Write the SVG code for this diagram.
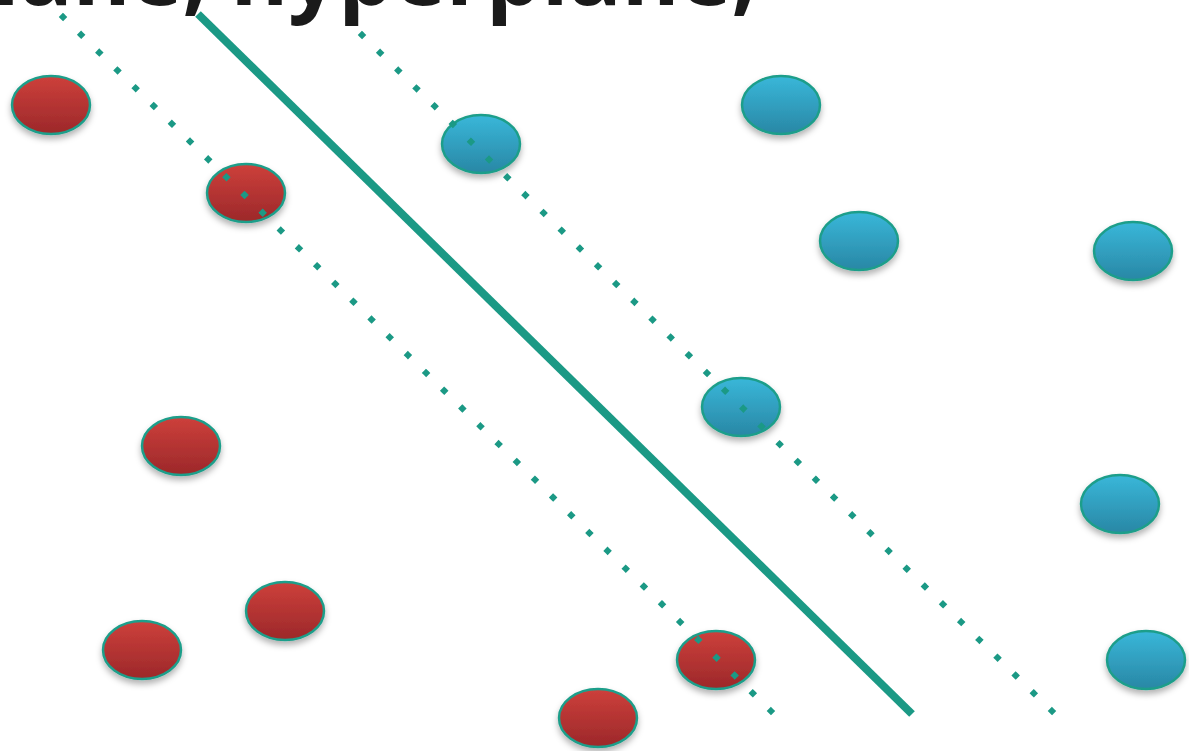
<svg xmlns="http://www.w3.org/2000/svg" width="1189" height="751" viewBox="0 0 1189 751">
  <defs>
    <linearGradient id="gRed" x1="0" y1="0" x2="0" y2="1">
      <stop offset="0" stop-color="#cd403b"/>
      <stop offset="1" stop-color="#9c282a"/>
    </linearGradient>
    <linearGradient id="gBlue" x1="0" y1="0" x2="0" y2="1">
      <stop offset="0" stop-color="#39b7d9"/>
      <stop offset="1" stop-color="#2987a5"/>
    </linearGradient>
    <filter id="shadow" x="-30%" y="-30%" width="160%" height="180%">
      <feDropShadow dx="0" dy="4" stdDeviation="3" flood-color="#000" flood-opacity="0.3"/>
    </filter>
    <style>
      .red { fill: url(#gRed); stroke: #1f9e8a; stroke-width: 2.5; filter: url(#shadow); }
      .blue { fill: url(#gBlue); stroke: #1f9e8a; stroke-width: 2.5; filter: url(#shadow); }
      .solid { stroke: #1b9985; stroke-width: 8; fill: none; }
      .dotted { stroke: #1b9985; stroke-width: 6; fill: none; stroke-linecap: square; stroke-dasharray: 0.05 25.37; }
      .title { font-family: "Open Sans", "Liberation Sans", sans-serif; font-weight: bold; font-size: 88px; fill: #1a1a1a; }
    </style>
  </defs>
  <rect width="1189" height="751" fill="#ffffff"/>

  <g id="red1"><ellipse class="red" cx="51" cy="105" rx="39" ry="29"/></g>
  <g id="red2"><ellipse class="red" cx="246" cy="193" rx="39" ry="29"/></g>
  <g id="red3"><ellipse class="red" cx="181" cy="446" rx="39" ry="29"/></g>
  <g id="red4"><ellipse class="red" cx="285" cy="611" rx="39" ry="29"/></g>
  <g id="red5"><ellipse class="red" cx="142" cy="650" rx="39" ry="29"/></g>
  <g id="red6"><ellipse class="red" cx="716" cy="660" rx="39" ry="29"/></g>
  <g id="red7"><ellipse class="red" cx="598" cy="718" rx="39" ry="29"/></g>

  <g id="blue1"><ellipse class="blue" cx="481" cy="144" rx="39" ry="29"/></g>
  <g id="blue2"><ellipse class="blue" cx="781" cy="105" rx="39" ry="29"/></g>
  <g id="blue3"><ellipse class="blue" cx="859" cy="241" rx="39" ry="29"/></g>
  <g id="blue4"><ellipse class="blue" cx="1133" cy="251" rx="39" ry="29"/></g>
  <g id="blue5"><ellipse class="blue" cx="741" cy="407" rx="39" ry="29"/></g>
  <g id="blue6"><ellipse class="blue" cx="1120" cy="504" rx="39" ry="29"/></g>
  <g id="blue7"><ellipse class="blue" cx="1146" cy="660" rx="39" ry="29"/></g>

  <g id="connectors">
    <line class="solid" x1="198" y1="14" x2="912" y2="714"/>
    <line class="dotted" x1="63" y1="17" x2="776" y2="716"/>
    <line class="dotted" x1="362" y1="35" x2="1056" y2="715"/>
  </g>

  <text class="title" x="-63" y="5">plane, hyperplane,</text>
</svg>
